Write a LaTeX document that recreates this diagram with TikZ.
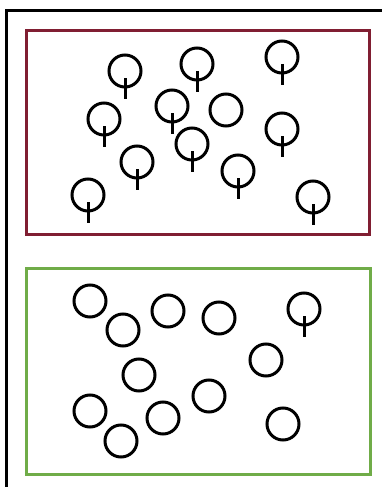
\documentclass[tikz,border=0pt]{standalone}
\usepackage{tikz}
\usetikzlibrary{positioning}
\definecolor{framered}{RGB}{128,30,50}
\definecolor{framegreen}{RGB}{112,172,72}

\begin{document}
\begin{tikzpicture}[
        x=1pt, y=-1pt,
        frame/.style = {line width=3pt},
        bulb/.style = {draw, circle, minimum size=32pt, inner sep=0pt, line width=3pt},
        stem/.style = {line width=3pt}
    ]
        \useasboundingbox (0,0) rectangle (382,487);

        % Outer border (top and left only)
        \draw [line width=3pt] (6,487) -- (6,11) -- (382,11);

        % Boxes
        \node (topbox) [draw=framered, frame, minimum width=343pt, minimum height=204pt, anchor=north west] at (25,29) {};
        \node (botbox) [draw=framegreen, frame, minimum width=344pt, minimum height=206pt, anchor=north west] at (25,267) {};

        % Upper box: circles with stems (one without)
        \foreach \i/\px/\py in {1/125/71, 2/197/64, 3/282/57, 4/104/119, 5/172/106,
                                7/282/129, 8/137/162, 9/192/144, 10/238/171, 11/88/195, 12/313/197} {
            \node (up\i) [bulb] at (\px,\py) {};
            \draw [stem] (up\i.center) ++(0,7) -- ++(0,21);
        }
        \node (up6) [bulb] at (226,110) {};

        % Lower box: plain circles (one with stem)
        \foreach \i/\px/\py in {1/90/301, 2/123/330, 3/168/311, 4/219/318, 6/266/360,
                                7/139/375, 8/209/396, 9/90/411, 10/163/418, 11/121/441, 12/283/424} {
            \node (lo\i) [bulb] at (\px,\py) {};
        }
        \node (lo5) [bulb] at (304,309) {};
        \draw [stem] (lo5.center) ++(0,7) -- ++(0,21);

    \end{tikzpicture}
\end{document}
